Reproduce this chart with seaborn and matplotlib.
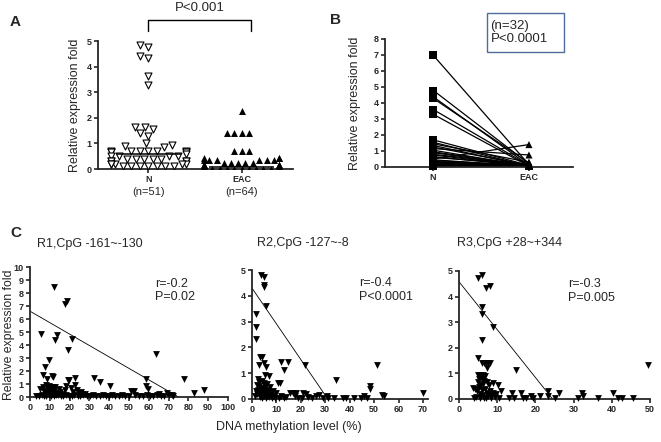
import numpy as np
import pandas as pd
import matplotlib
matplotlib.use("Agg")
import matplotlib.pyplot as plt
import seaborn as sns
from matplotlib.patches import Rectangle
import matplotlib.transforms as mtrans

# ---- panel A: expression fold, N vs EAC ----
a_groups = ["N", "EAC"]
a_counts = ["(n=51)", "(n=64)"]
a_n = [4.85, 4.75, 4.4, 4.35, 3.65, 3.3,
       1.65, 1.65, 1.55, 1.4, 1.3,
       1.0, 0.95, 0.9, 0.85,
       0.7, 0.7, 0.7, 0.7, 0.7, 0.7, 0.65, 0.65, 0.65, 0.65, 0.6,
       0.5, 0.5, 0.5, 0.5, 0.4, 0.4, 0.4, 0.4, 0.4, 0.3, 0.3, 0.3, 0.3,
       0.2, 0.2, 0.2, 0.2, 0.2, 0.12, 0.12, 0.12, 0.12, 0.12, 0.12, 0.12]
a_eac = [2.25, 1.4, 1.4, 1.4, 1.4, 0.7, 0.7, 0.7,
         0.45, 0.45, 0.45, 0.35, 0.35, 0.35, 0.35, 0.35, 0.35,
         0.25, 0.25, 0.25, 0.25, 0.25, 0.15, 0.15, 0.15, 0.15, 0.15, 0.15, 0.15, 0.15,
         0.08, 0.08, 0.08, 0.08, 0.05, 0.05, 0.05, 0.05, 0.05, 0.05,
         0.03, 0.03, 0.03, 0.03, 0.03, 0.03, 0.03, 0.03, 0.03, 0.03,
         0.01, 0.01, 0.01, 0.01, 0.01, 0.01, 0.01, 0.01, 0.01, 0.01, 0.01, 0.01, 0.01, 0.01]
a_pvalue = "P<0.001"

# ---- panel B: paired samples ----
b_n = [7.0, 4.8, 4.4, 4.3, 3.6, 3.3, 1.7, 1.55, 1.45, 1.35, 1.25, 1.15, 1.05, 0.95, 0.9, 0.8,
       0.75, 0.65, 0.6, 0.5, 0.45, 0.4, 0.35, 0.3, 0.25, 0.2, 0.15, 0.12, 0.1, 0.08, 0.05, 0.03]
b_eac = [0.15, 0.2, 0.1, 0.25, 0.1, 0.05, 0.1, 0.05, 0.3, 0.05, 0.1, 0.75, 0.05, 0.1, 0.05, 0.1,
         0.05, 0.05, 0.15, 1.4, 0.05, 0.1, 0.05, 0.1, 0.05, 0.1, 0.05, 0.05, 0.1, 0.05, 0.05, 0.05]
b_note = "(n=32)\nP<0.0001"

# ---- panel C: methylation vs expression ----
c1_x = [12.2, 17.8, 18.8, 5.4, 13.4, 12.6, 21.4, 19.4, 63.7, 9.7, 7.6,
        6.5, 10.9, 11.6, 8.8, 19.0, 19.9, 22.6, 32.2, 35.1, 40.2, 58.4, 58.4, 59.8, 77.6, 82.7,
        87.8, 51.0, 52.3, 65.0, 69.0, 71.5,
        5.0, 6.5, 7.0, 8.0, 8.5, 9.2, 9.8, 10.5, 11.0, 11.5, 12.0, 12.8, 13.5, 14.5, 15.0, 16.2,
        17.5, 18.2, 20.5, 21.5, 22.5, 23.5, 24.5, 25.5, 26.5, 28.0, 7.8, 10.0, 13.0,
        3, 4.5, 6, 7.2, 8.3, 9.5, 10.8, 12.3, 14, 15.5, 16.8, 18, 19.5, 21, 22.2, 24, 25, 27,
        29, 30.5, 32, 33.5, 35.5, 37, 38.5, 40, 41.5, 43, 45, 46.5, 48, 50, 53, 55, 57, 59,
        60.5, 62, 64, 66, 67.5, 70, 72]
c1_y = [8.45, 7.18, 7.36, 4.87, 4.74, 4.36, 4.49, 3.64, 3.33, 2.82, 2.31,
        1.67, 1.65, 1.52, 1.4, 1.33, 1.28, 1.45, 1.45, 1.13, 0.88, 1.4, 0.88, 0.62, 1.35, 0.28,
        0.55, 0.45, 0.45, 0.25, 0.3, 0.18,
        0.65, 0.8, 0.5, 0.95, 0.7, 0.4, 0.85, 0.6, 0.35, 0.75, 0.5, 0.8, 0.3, 0.6, 0.4, 0.25,
        0.55, 0.85, 0.7, 0.4, 0.9, 0.55, 0.3, 0.4, 0.25, 0.2, 0.3, 0.2, 0.15,
        0.08, 0.1, 0.12, 0.08, 0.1, 0.12, 0.08, 0.1, 0.12, 0.08, 0.1, 0.12, 0.08, 0.1, 0.12,
        0.08, 0.1, 0.12, 0.08, 0.1, 0.12, 0.08, 0.1, 0.12, 0.08, 0.1, 0.12, 0.08, 0.1, 0.12,
        0.08, 0.1, 0.12, 0.08, 0.1, 0.12, 0.08, 0.1, 0.12, 0.08, 0.1, 0.12, 0.08]

c2_x = [3.8, 5.0, 4.75, 4.9, 5.8, 1.8, 1.8, 1.8,
        3.4, 4.3, 3.0, 4.75, 5.8, 5.4, 6.8, 4.1, 2.4, 4.75, 4.5, 10.5, 11.3, 12.0, 12.9, 14.9,
        21.7, 34.4, 48.2, 48.2, 51.2, 53.0, 54.0, 70.0,
        1.5, 2.0, 2.5, 3.0, 3.2, 3.6, 4.0, 4.4, 4.8, 5.2, 5.6, 6.0, 6.4, 6.8, 7.2, 7.8, 8.5,
        9.2, 10.0, 2.2, 3.4, 5.0, 6.0, 7.0, 1.2, 2.8, 4.2, 5.8, 8.0, 9.5,
        11, 12, 13, 14, 15.6, 16.7, 17.5, 18, 19, 20.5, 21, 22, 23, 24.5, 26, 27.6, 29, 30.6,
        31.2, 33.7, 37.4, 38.5, 41.8, 44.8, 45.8, 47]
c2_y = [4.81, 4.72, 4.42, 4.33, 3.61, 3.3, 2.81, 2.33,
        1.62, 1.62, 1.32, 1.39, 1.24, 0.94, 0.9, 0.68, 0.77, 0.62, 0.43, 0.62, 0.62, 1.42, 1.13,
        1.42, 1.33, 0.75, 0.5, 0.4, 1.33, 0.17, 0.1, 0.23,
        0.3, 0.2, 0.35, 0.5, 0.15, 0.28, 0.4, 0.18, 0.3, 0.5, 0.22, 0.35, 0.12, 0.28, 0.45,
        0.2, 0.3, 0.12, 0.22, 0.55, 0.08, 0.1, 0.6, 0.08, 0.1, 0.65, 0.05, 0.05, 0.05, 0.05,
        0.05, 0.12, 0.05, 0.08, 0.22, 0.22, 0.1, 0.22, 0.05, 0.05, 0.25, 0.18, 0.08, 0.05,
        0.1, 0.17, 0.05, 0.13, 0.05, 0.05, 0.05, 0.05, 0.05, 0.05, 0.12, 0.05]

c3_x = [5.0, 6.1, 7.0, 8.0, 6.0, 5.9, 8.9, 6.0, 5.0, 15.0, 49.6,
        5.9, 6.5, 7.1, 7.7, 8.2, 7.2,
        5.0, 5.6, 6.2, 6.8, 5.3, 6.0, 6.6, 7.3, 5.0, 8.9, 10.2, 11.1, 7.8,
        3.7, 4.3, 4.8, 5.2, 5.6, 6.0, 6.4, 6.8, 7.2, 7.6, 8.0, 8.4, 8.8, 9.3, 9.8, 4.5, 5.5,
        6.5, 7.0, 8.5, 4.0, 10.5, 6.2, 5.8,
        14.0, 14.5, 16.2, 16.8, 17.5, 18.8, 21.2, 23.3, 23.3, 25.1, 26.2, 31.2, 32.3, 32.5,
        36.5, 40.4, 41.5, 42.6, 45.6, 13.0, 19.5]
c3_y = [4.71, 4.84, 4.32, 4.42, 3.58, 3.31, 2.81, 2.31, 1.62, 1.12, 1.31,
        1.4, 1.4, 1.4, 1.4, 1.4, 1.21,
        0.92, 0.92, 0.92, 0.9, 0.8, 0.78, 0.72, 0.65, 0.65, 0.62, 0.53, 0.3, 0.55,
        0.43, 0.4, 0.3, 0.45, 0.2, 0.35, 0.15, 0.4, 0.25, 0.1, 0.3, 0.15, 0.22, 0.08, 0.18,
        0.08, 0.05, 0.05, 0.05, 0.05, 0.05, 0.05, 0.6, 0.55,
        0.23, 0.05, 0.23, 0.05, 0.05, 0.1, 0.1, 0.3, 0.13, 0.05, 0.23, 0.05, 0.23, 0.1,
        0.05, 0.23, 0.05, 0.05, 0.05, 0.05, 0.05]

# fitted lines: (y at x=0, x where y reaches 0)
c_fits = [(6.6, 75.0), (4.3, 31.0), (4.58, 24.5)]
c_titles = ["R1,CpG -161~-130", "R2,CpG -127~-8", "R3,CpG +28~+344"]
c_stats = ["r=-0.2\nP=0.02", "r=-0.4\nP<0.0001", "r=-0.3\nP=0.005"]
c_xlims = [100, 72, 50]
c_xticks = [np.arange(0, 101, 10), np.arange(0, 71, 10), np.arange(0, 51, 10)]
c_ymax = [10, 5, 5]

sns.set_style("ticks")
plt.rcParams["font.family"] = ["Liberation Sans", "DejaVu Sans"]

fig = plt.figure(figsize=(6.61, 4.42), dpi=100)
axA = fig.add_axes([0.148, 0.6176, 0.295, 0.2896])
axB = fig.add_axes([0.5825, 0.6222, 0.2845, 0.2896])
axC = [fig.add_axes([0.0454, 0.1018, 0.2996, 0.2941]),
       fig.add_axes([0.3812, 0.0973, 0.2663, 0.2918]),
       fig.add_axes([0.6944, 0.0973, 0.289, 0.2896])]


def style_axis(ax):
    sns.despine(ax=ax)
    for side in ["left", "bottom"]:
        ax.spines[side].set_linewidth(1.3)
    ax.tick_params(direction="out", length=3, width=1.2, pad=1.5, labelsize=6.5)
    for lab in ax.get_xticklabels() + ax.get_yticklabels():
        lab.set_fontweight("bold")


# ---------- A ----------
df_a = pd.DataFrame({"group": ["N"] * len(a_n) + ["EAC"] * len(a_eac),
                     "fold": a_n + a_eac})
sns.swarmplot(data=df_a[df_a.group == "N"], x="group", y="fold", order=a_groups,
              marker="v", color="white", edgecolor="black", linewidth=0.8,
              size=5.0, ax=axA, warn_thresh=1)
sns.swarmplot(data=df_a[df_a.group == "EAC"], x="group", y="fold", order=a_groups,
              marker="^", color="black", linewidth=0, size=5.0, ax=axA, warn_thresh=1)
for i, g in enumerate(a_groups):
    med = df_a.loc[df_a.group == g, "fold"].median()
    axA.hlines(med, i - 0.35, i + 0.35, color="black", lw=1.1, zorder=5)
axA.set_xlim(-0.54, 1.55)
axA.set_ylim(0, 5)
axA.set_yticks(range(6))
axA.set_xticks([0, 1])
axA.set_xticklabels(a_groups)
axA.set_xlabel("")
axA.set_ylabel("")
style_axis(axA)
trA = mtrans.blended_transform_factory(axA.transData, axA.transAxes)
for i, c in enumerate(a_counts):
    axA.text(i, -0.18, c, transform=trA, ha="center", va="center", fontsize=8)
axA.plot([0, 0, 1.1, 1.1], [5.39, 5.82, 5.82, 5.39], color="black", lw=1, clip_on=False)
axA.text(0.55, 6.3, a_pvalue, ha="center", va="center", fontsize=9.5)

# ---------- B ----------
df_b = pd.DataFrame({"pair": list(range(len(b_n))) * 2,
                     "pos": [0] * len(b_n) + [1] * len(b_eac),
                     "group": ["N"] * len(b_n) + ["EAC"] * len(b_eac),
                     "fold": b_n + b_eac})
sns.lineplot(data=df_b, x="pos", y="fold", units="pair", estimator=None,
             color="black", lw=0.9, ax=axB)
sns.scatterplot(data=df_b, x="pos", y="fold", style="group",
                markers={"N": "s", "EAC": "^"}, color="black", s=26, linewidth=0,
                legend=False, ax=axB, clip_on=False, zorder=4)
axB.set_xlim(-0.5, 1.46)
axB.set_ylim(0, 8)
axB.set_yticks(range(9))
axB.set_xticks([0, 1])
axB.set_xticklabels(a_groups)
axB.set_xlabel("")
axB.set_ylabel("")
style_axis(axB)
fig.add_artist(Rectangle((0.7368, 0.8824), 0.1165, 0.0882, transform=fig.transFigure,
                         fill=False, edgecolor="#4f6d9a", lw=1))
fig.text(0.742, 0.926, b_note, ha="left", va="center", fontsize=9.5, linespacing=1.15)

# ---------- C ----------
c_data = [(c1_x, c1_y), (c2_x, c2_y), (c3_x, c3_y)]
stat_pos = [(0.63, 0.82), (0.61, 0.845), (0.57, 0.845)]
for k, ax in enumerate(axC):
    xs, ys = c_data[k]
    sns.scatterplot(x=xs, y=ys, marker="v", color="black", s=24, linewidth=0,
                    ax=ax, clip_on=False, zorder=3)
    b0, x0 = c_fits[k]
    sns.lineplot(x=[0, x0], y=[b0, 0], color="black", lw=0.6, ax=ax)
    ax.set_xlim(0, c_xlims[k])
    ax.set_ylim(0, c_ymax[k])
    ax.set_xticks(c_xticks[k])
    ax.set_yticks(range(c_ymax[k] + 1))
    style_axis(ax)
    ax.text(stat_pos[k][0], stat_pos[k][1], c_stats[k], transform=ax.transAxes,
            ha="left", va="center", fontsize=9, linespacing=1.15)

fig.text(0.056, 0.448, c_titles[0], ha="left", va="center", fontsize=9)
fig.text(0.389, 0.450, c_titles[1], ha="left", va="center", fontsize=9)
fig.text(0.691, 0.450, c_titles[2], ha="left", va="center", fontsize=9)

# axis titles and panel letters
fig.text(0.113, 0.762, "Relative expression fold", rotation=90, ha="center", va="center", fontsize=9)
fig.text(0.537, 0.767, "Relative expression fold", rotation=90, ha="center", va="center", fontsize=9)
fig.text(0.014, 0.243, "Relative expression fold", rotation=90, ha="center", va="center", fontsize=8.8)
fig.text(0.437, 0.034, "DNA methylation level (%)", ha="center", va="center", fontsize=9)
fig.text(0.015, 0.95, "A", fontsize=11, fontweight="bold", va="center")
fig.text(0.499, 0.955, "B", fontsize=11, fontweight="bold", va="center")
fig.text(0.015, 0.473, "C", fontsize=11, fontweight="bold", va="center")

fig.savefig("out.png", dpi=100)
